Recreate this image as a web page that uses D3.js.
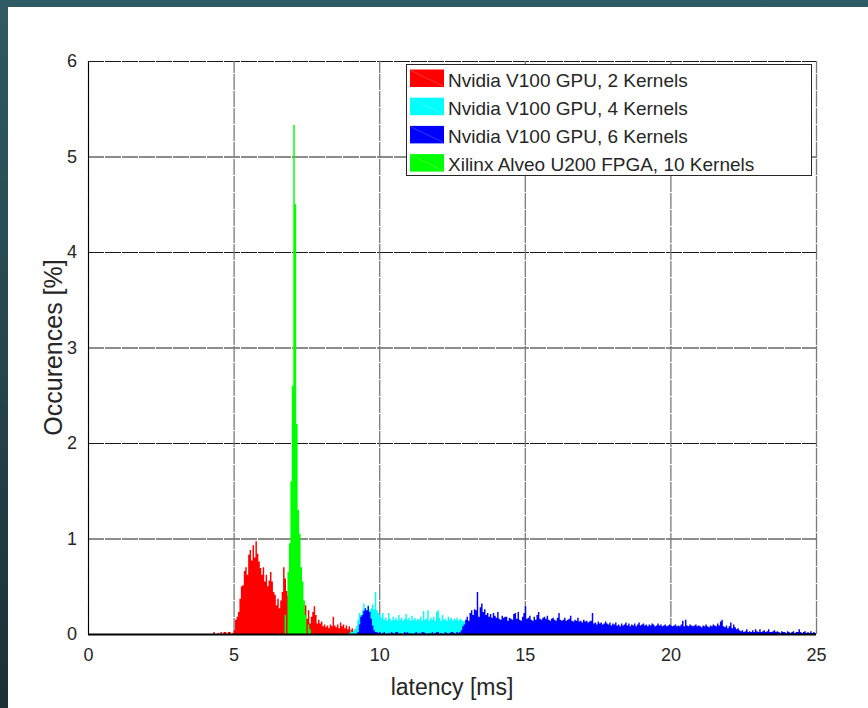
<!DOCTYPE html>
<html>
<head>
<meta charset="utf-8">
<script src="https://cdnjs.cloudflare.com/ajax/libs/d3/7.8.5/d3.min.js"></script>
<style>
  html, body { margin: 0; padding: 0; background: #2e5a63; }
  svg { display: block; }
  text { font-family: "Liberation Sans", Arial, sans-serif; fill: #262626; }
</style>
</head>
<body>
<svg id="chart" width="868" height="708"></svg>
<script>
// latency histograms, bin width 0.05 ms, values in % of occurences
var binWidth = 0.05;

var redStart = 4.30;
var redValues = [
  0.02,0,0,0.01,0,0.02,0,0.02,0.02,0,0.02,0.02,0,0.01,
  0.04,0.15,0.18,0.23,0.37,0.50,0.51,0.66,0.70,0.62,0.83,0.88,0.77,0.93,0.80,0.97,
  0.84,0.76,0.69,0.62,0.70,0.55,0.62,0.50,0.56,0.65,0.55,0.44,0.41,0.30,0.37,0.27,
  0.35,0.44,0.70,0.58,0.45,0.40,0.35,0.30,0.30,0.30,0.30,0.28,0.25,0.25,0.22,0.25,
  0.28,0.30,0.16,0.25,0.11,0.18,0.23,0.29,0.20,0.11,0.15,0.11,0.13,0.08,0.10,0.07,
  0.09,0.06,0.10,0.08,0.18,0.09,0.07,0.10,0.06,0.12,0.08,0.10,0.06,0.09,0.05,0.08,
  0.04,0.06,0.03,0.05,0.02
];

var cyanStart = 8.95;
var cyanValues = [
  0.01,0.03,0.02,0.04,0.05,0.08,0.15,0.22,0.20,0.25,0.32,0.26,0.22,0.30,0.25,0.27,
  0.31,0.26,0.44,0.25,0.22,0.20,0.17,0.22,0.15,0.17,0.14,0.22,0.16,0.14,0.18,0.15,
  0.17,0.14,0.20,0.15,0.17,0.14,0.16,0.21,0.15,0.17,0.14,0.19,0.15,0.17,0.14,0.16,
  0.15,0.18,0.14,0.24,0.15,0.16,0.25,0.14,0.17,0.15,0.18,0.14,0.23,0.25,0.17,0.14,
  0.20,0.15,0.16,0.14,0.18,0.15,0.17,0.14,0.16,0.15,0.17,0.14,0.16,0.15,0.14,0.13,
  0.10,0.05
];

var bluePeakStart = 9.25;
var bluePeak = [0.02,0.10,0.18,0.20,0.24,0.27,0.25,0.29,0.23,0.16,0.09,0.04,0.02];

var blueFloorStart = 9.90;
var blueFloor = [
  0.02,0.01,0.02,0,0.01,0.02,0,0,0.01,0,0.02,0.01,0,0.02,0.02,0,0.01,0,0,0.02,
  0.01,0.02,0,0.01,0,0,0.01,0.02,0,0.01,0,0.02,0.02,0.01,0,0,0.01,0,0.02,0,
  0.01,0.02,0.02,0,0.01,0,0,0.02,0.01,0,0.01,0.02,0.02,0.01,0,0.02,0.01,0.02
];

var blueTailStart = 12.80;
var blueTail = [
  0.04,0.08,0.10,0.15,0.18,0.14,0.22,0.25,0.20,0.26,0.25,0.44,0.18,0.28,0.32,0.23,0.26,0.20,0.22,0.18,
  0.21,0.17,0.22,0.19,0.17,0.23,0.16,0.15,0.19,0.17,0.18,0.18,0.14,0.17,0.16,0.15,0.21,0.22,0.16,0.23,
  0.15,0.14,0.18,0.22,0.29,0.16,0.17,0.19,0.15,0.14,0.18,0.15,0.20,0.23,0.16,0.15,0.17,0.18,0.16,0.19,
  0.15,0.14,0.16,0.17,0.15,0.14,0.17,0.22,0.15,0.14,0.15,0.17,0.14,0.15,0.16,0.19,0.14,0.13,0.15,0.14,
  0.17,0.13,0.14,0.12,0.15,0.13,0.14,0.12,0.13,0.14,0.22,0.11,0.12,0.10,0.13,0.11,0.12,0.10,0.11,0.13,
  0.11,0.10,0.12,0.09,0.11,0.10,0.12,0.09,0.10,0.08,0.11,0.09,0.10,0.12,0.09,0.11,0.08,0.10,0.09,0.11,
  0.08,0.10,0.12,0.09,0.10,0.11,0.09,0.10,0.08,0.10,0.09,0.11,0.10,0.08,0.09,0.11,0.09,0.10,0.08,0.09,
  0.10,0.08,0.09,0.10,0.09,0.08,0.09,0.10,0.08,0.09,0.08,0.10,0.14,0.08,0.15,0.09,0.08,0.10,0.09,0.08,
  0.09,0.10,0.08,0.09,0.08,0.07,0.09,0.08,0.10,0.08,0.07,0.09,0.08,0.10,0.09,0.08,0.11,0.09,0.13,0.15,
  0.08,0.07,0.09,0.06,0.08,0.12,0.06,0.10,0.07,0.05,0.06,0.04,0.03,0.04,0.02,0.03,0.05,0.02,0.03,0.02,
  0.04,0.02,0.05,0.03,0.02,0.05,0.02,0.03,0.04,0.02,0.03,0.05,0.02,0.02,0.03,0.04,0.02,0.03,0.02,0.01,
  0.03,0.02,0.02,0.01,0.03,0.02,0.01,0.02,0.03,0.01,0.02,0.02,0.05,0.02,0.01,0.02,0.03,0.01,0.02,0.01,
  0.03,0.01,0.02,0.01
];

var greenStart = 6.75;
var greenValues = [0.20,0,0.65,0.95,1.60,2.60,5.33,4.50,2.20,1.30,1.05,0.70,0.55,0.35,0.20,0,0.10,0.05];

var legendLabels = [
  "Nvidia V100 GPU, 2 Kernels",
  "Nvidia V100 GPU, 4 Kernels",
  "Nvidia V100 GPU, 6 Kernels",
  "Xilinx Alveo U200 FPGA, 10 Kernels"
];
var colors = ["#ff0000", "#00ffff", "#0000ff", "#00ff00"];
var xTicks = [0, 5, 10, 15, 20, 25];
var yTicks = [0, 1, 2, 3, 4, 5, 6];

function toBins(start, values) {
  var pts = values.map(function(v, i) { return {x: start + i * binWidth, v: v}; });
  pts.push({x: start + values.length * binWidth, v: 0});
  return pts;
}

var series = [
  [toBins(redStart, redValues)],
  [toBins(cyanStart, cyanValues)],
  [toBins(bluePeakStart, bluePeak), toBins(blueFloorStart, blueFloor), toBins(blueTailStart, blueTail)],
  [toBins(greenStart, greenValues)]
];

var svg = d3.select("#chart"),
    width = +svg.attr("width"),
    height = +svg.attr("height");

// dark frame with gradient, white page
var defs = svg.append("defs");
var grad = defs.append("linearGradient").attr("id", "frame")
    .attr("x1", 0).attr("y1", 0).attr("x2", 0).attr("y2", 1);
grad.append("stop").attr("offset", "0%").attr("stop-color", "#2f5b64");
grad.append("stop").attr("offset", "100%").attr("stop-color", "#1b3034");
svg.append("rect").attr("width", width).attr("height", height).attr("fill", "url(#frame)");
svg.append("rect").attr("x", 8).attr("y", 7).attr("width", width - 8).attr("height", height - 7)
    .attr("fill", "#fff");

var x = d3.scaleLinear().domain([0, 25]).range([88, 816]);
var y = d3.scaleLinear().domain([0, 6]).range([634, 61]);

// grid
var grid = svg.append("g").attr("class", "grid");
grid.selectAll("line.h")
    .data(yTicks)
    .enter().append("line")
      .attr("class", "h")
      .attr("x1", x(0)).attr("x2", x(25))
      .attr("y1", function(d) { return y(d) + 0.5; })
      .attr("y2", function(d) { return y(d) + 0.5; })
      .attr("stroke", "#1a1a1a")
      .attr("stroke-width", 1)
      .attr("stroke-dasharray", "16,1");
grid.selectAll("line.v")
    .data(xTicks)
    .enter().append("line")
      .attr("class", "v")
      .attr("y1", y(0)).attr("y2", y(6))
      .attr("x1", function(d) { return x(d) + 0.5; })
      .attr("x2", function(d) { return x(d) + 0.5; })
      .attr("stroke", "#7a7a7a")
      .attr("stroke-width", 1.3)
      .attr("stroke-dasharray", "16,1");

// histograms
var area = d3.area()
    .curve(d3.curveStepAfter)
    .x(function(d) { return x(d.x); })
    .y0(y(0))
    .y1(function(d) { return y(d.v); });

var hist = svg.append("g").attr("class", "hist");
series.forEach(function(parts, i) {
  hist.append("g")
    .selectAll("path")
    .data(parts)
    .enter().append("path")
      .attr("d", area)
      .attr("fill", colors[i]);
});

// axes lines
svg.append("line").attr("x1", x(0) + 0.5).attr("x2", x(0) + 0.5).attr("y1", y(0)).attr("y2", y(6))
    .attr("stroke", "#000").attr("stroke-width", 1);
svg.append("line").attr("x1", x(0)).attr("x2", x(25)).attr("y1", y(0) + 0.5).attr("y2", y(0) + 0.5)
    .attr("stroke", "#000").attr("stroke-width", 2);

// tick labels
var xAxis = svg.append("g")
    .attr("transform", "translate(0," + y(0) + ")")
    .call(d3.axisBottom(x).tickValues(xTicks).tickFormat(d3.format("d")).tickSize(0).tickPadding(14));
xAxis.select(".domain").remove();
xAxis.selectAll("text").style("font-size", "18px").attr("fill", "#262626");

var yAxis = svg.append("g")
    .attr("transform", "translate(" + x(0) + ",0)")
    .call(d3.axisLeft(y).tickValues(yTicks).tickFormat(d3.format("d")).tickSize(0).tickPadding(11));
yAxis.select(".domain").remove();
yAxis.selectAll("text").style("font-size", "18px").attr("fill", "#262626");

// axis titles
svg.append("text")
    .attr("x", x(12.5)).attr("y", 695)
    .attr("text-anchor", "middle")
    .style("font-size", "23px")
    .text("latency [ms]");
svg.append("text")
    .attr("transform", "translate(62," + y(3) + ") rotate(-90)")
    .attr("text-anchor", "middle")
    .style("font-size", "25px")
    .text("Occurences [%]");

// legend
var legend = svg.append("g").attr("class", "legend");
legend.append("rect")
    .attr("x", 406.5).attr("y", 64.5).attr("width", 405).attr("height", 111)
    .attr("fill", "#fff").attr("stroke", "#262626").attr("stroke-width", 1);
var item = legend.selectAll("g.item")
    .data(legendLabels)
    .enter().append("g")
      .attr("class", "item")
      .attr("transform", function(d, i) { return "translate(410," + (69.5 + i * 28.2) + ")"; });
item.append("rect")
    .attr("width", 34).attr("height", 17.5)
    .attr("fill", function(d, i) { return colors[i]; });
item.append("line")
    .attr("x1", 1).attr("y1", 1).attr("x2", 33).attr("y2", 16.5)
    .attr("stroke", "#fff").attr("stroke-opacity", 0.3).attr("stroke-width", 0.7);
item.append("text")
    .attr("x", 38).attr("y", 17)
    .style("font-size", "19px")
    .text(function(d) { return d; });
</script>
</body>
</html>
